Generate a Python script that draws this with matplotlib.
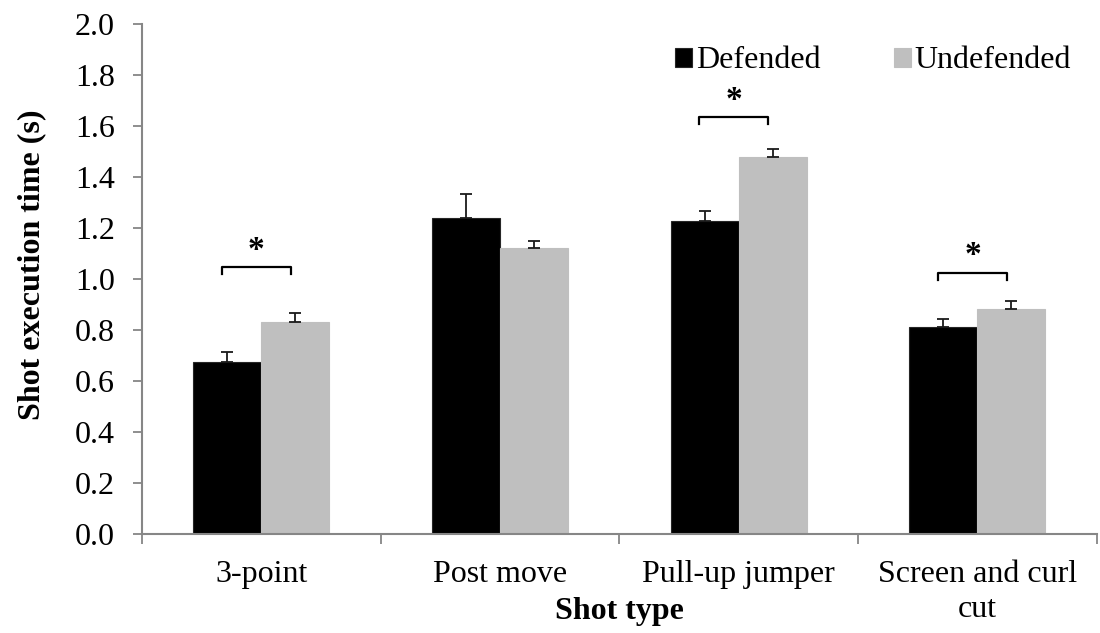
import numpy as np
import matplotlib
matplotlib.use("Agg")
import matplotlib.pyplot as plt

plt.rcParams['font.family'] = ['Liberation Serif', 'DejaVu Serif']

# data
shot_types = ['3-point', 'Post move', 'Pull-up jumper', 'Screen and curl\ncut']
defended = [0.676, 1.238, 1.229, 0.813]
defended_err = [0.036, 0.095, 0.039, 0.030]
undefended = [0.830, 1.120, 1.480, 0.884]
undefended_err = [0.038, 0.029, 0.030, 0.029]
significant = [True, False, True, True]
bracket_level = [1.047, 0, 1.634, 1.025]

fs = 23
axis_grey = '#868686'
fig = plt.figure(figsize=(11, 6.33), dpi=100)
ax = fig.add_axes([0.129, 0.1564, 0.868, 0.8057])

x = np.arange(len(shot_types))
w = 0.285
ax.bar(x - w / 2, defended, w, color='black', edgecolor='#262626', linewidth=0.8,
       label='Defended', zorder=2)
ax.bar(x + w / 2, undefended, w, color='#bfbfbf', edgecolor='#bfbfbf', linewidth=0.8,
       label='Undefended', zorder=2)
ax.errorbar(x - w / 2, defended, yerr=[np.zeros(4), defended_err], fmt='none',
            ecolor='#1a1a1a', elinewidth=1.3, capsize=4.5, capthick=1.3, zorder=3)
ax.errorbar(x + w / 2, undefended, yerr=[np.zeros(4), undefended_err], fmt='none',
            ecolor='#1a1a1a', elinewidth=1.3, capsize=4.5, capthick=1.3, zorder=3)

# significance brackets
for xi, sig, lev in zip(x, significant, bracket_level):
    if not sig:
        continue
    x0, x1 = xi - 0.165, xi + 0.125
    ax.plot([x0, x0, x1, x1], [lev - 0.028, lev, lev, lev - 0.028],
            color='black', lw=1.6, zorder=3)
    ax.text((x0 + x1) / 2, lev + 0.005, '*', ha='center', va='bottom',
            fontsize=24, fontweight='bold')

ax.set_ylim(0, 2.0)
ax.set_xlim(-0.5, 3.5)
ax.set_yticks(np.arange(0, 2.01, 0.2))
ax.set_yticklabels([f'{v:.1f}' for v in np.arange(0, 2.01, 0.2)])
ax.set_xticks(np.arange(-0.5, 3.6, 1.0))
ax.set_xticklabels([])
ax.set_xticks(x, minor=True)
ax.set_xticklabels(shot_types, minor=True, fontsize=fs, linespacing=1.25)
ax.tick_params(axis='x', which='minor', length=0, pad=19)
ax.tick_params(axis='x', which='major', length=7, color=axis_grey, width=1.3, direction='out')
ax.tick_params(axis='y', length=6.5, color=axis_grey, width=1.3, direction='out',
               labelsize=fs, pad=13)

for s in ['top', 'right']:
    ax.spines[s].set_visible(False)
for s in ['left', 'bottom']:
    ax.spines[s].set_color(axis_grey)
    ax.spines[s].set_linewidth(1.5)

fig.text(32 / 1100, 1 - 265 / 633, 'Shot execution time (s)', rotation=90,
         ha='center', va='center', fontsize=fs, fontweight='bold')
fig.text(619 / 1100, 1 - 612 / 633, 'Shot type', ha='center', va='center',
         fontsize=fs, fontweight='bold')

ax.legend(loc='center right', bbox_to_anchor=(1071 / 1100, 1 - 61 / 633),
          bbox_transform=fig.transFigure, ncol=2, frameon=False,
          fontsize=fs, handlelength=0.55, handleheight=0.55, handletextpad=0.1,
          columnspacing=2.3, borderpad=0, borderaxespad=0)

fig.savefig('out.png', dpi=100)
